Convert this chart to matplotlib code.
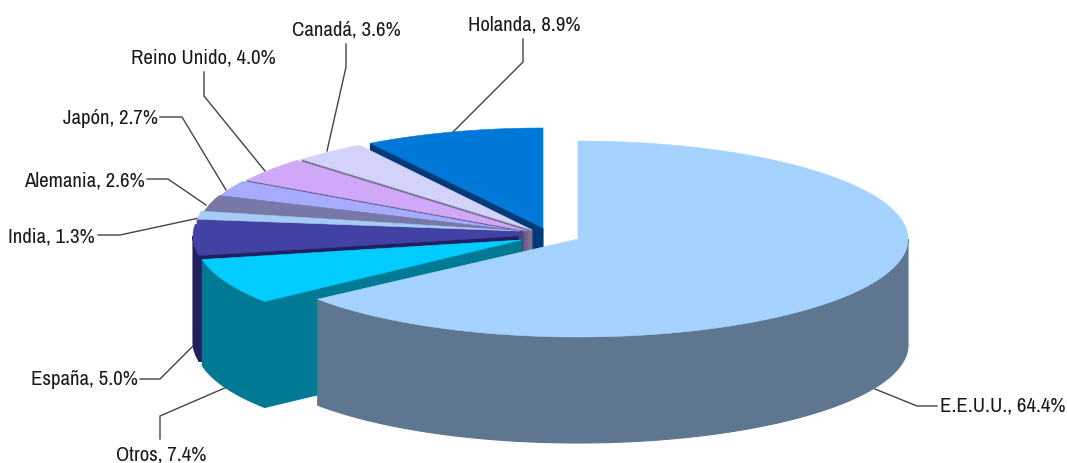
import numpy as np
import matplotlib
matplotlib.use("Agg")
import matplotlib.pyplot as plt
from matplotlib.patches import Polygon
from matplotlib import font_manager as fm

# ---- data ----
categories = ["E.E.U.U.", "Otros", "España", "India", "Alemania", "Japón", "Reino Unido", "Canadá", "Holanda"]
values = [64.4, 7.4, 5.0, 1.3, 2.6, 2.7, 4.0, 3.6, 8.9]

# ---- styles / layout (pixels) ----
top_colors = ["#A6D2FF", "#00CCFF", "#4242A4", "#A6CCF6", "#7878A8", "#A8ACFF", "#D0A8F8", "#D2D2FA", "#0078D8"]
side_colors = ["#5E7690", "#007A94", "#202060", "#4242A4", "#4A4A70", "#5A5A90", "#6E5E90", "#7A7490", "#003A78"]
centers = [(578, 240), (521, 241), (518, 237), (520, 232), (523, 232), (523, 233), (527, 232), (532, 231), (543, 229)]
radii = [(330, 98), (325, 100), (325, 100), (325, 100), (325, 100), (325, 100), (325, 100), (325, 100), (325, 100)]
DEPTH = 106
label_pos = [(1066, 406, "right"), (206, 455, "right"), (138, 380, "right"), (95, 237, "right"), (145, 181, "right"),
             (158, 119, "right"), (276, 58, "right"), (401, 30, "right"), (580, 25, "right")]
leaders = [
    [(937, 407), (917, 407), (875, 390)],
    [(160, 440), (160, 417), (227, 388)],
    [(140, 380), (160, 380), (193, 347)],
    [(98, 236), (120, 236), (199, 219)],
    [(147, 180), (168, 180), (206, 206)],
    [(160, 118), (182, 118), (226, 191)],
    [(204, 73), (204, 97), (265, 172)],
    [(346, 45), (346, 68), (327, 152)],
    [(523, 40), (523, 63), (453, 133)],
]

names = sorted({f.name for f in fm.fontManager.ttflist})
narrow = [n for n in names if "Narrow" in n or "Condensed" in n]
family = narrow[0] if narrow else "Roboto"
fsize = 15 if narrow else 13.2

fig = plt.figure(figsize=(10.67, 4.64), dpi=100, facecolor="white")
ax = fig.add_axes([0, 0, 1, 1])
ax.set_xlim(0, 1067)
ax.set_ylim(464, 0)
ax.axis("off")


def arc(center, radius, a0, a1):
    """Points of the ellipse, angle in degrees clockwise from 12 o'clock."""
    t = np.radians(np.linspace(a0, a1, max(int(abs(a1 - a0) * 2), 2)))
    return np.column_stack([center[0] + radius[0] * np.sin(t), center[1] - radius[1] * np.cos(t)])


shares = np.array(values) / np.sum(values) * 360
stops = np.cumsum(shares)
starts = stops - shares
draw_order = [8, 7, 6, 5, 4, 3, 2, 1, 0]

for z, i in enumerate(draw_order):
    c, r, a0, a1 = centers[i], radii[i], starts[i], stops[i]
    zo = 2 + z
    # wall along the first radial edge (turned to the viewer), not for the first slice
    if i > 0:
        tip = arc(c, r, a0, a0 + 0.01)[0]
        ax.add_patch(Polygon([c, tip, (tip[0], tip[1] + DEPTH), (c[0], c[1] + DEPTH)],
                             fc=side_colors[i], ec=side_colors[i], lw=0.8, zorder=zo))
    # outer wall: only the front half of the ellipse shows
    f0, f1 = max(a0, 90), min(a1, 270)
    if f1 > f0:
        pts = arc(c, r, f0, f1)
        ax.add_patch(Polygon(np.vstack([pts, pts[::-1] + [0, DEPTH]]),
                             fc=side_colors[i], ec=side_colors[i], lw=0.8, zorder=zo))
    # top face
    ax.add_patch(Polygon(np.vstack([[c], arc(c, r, a0, a1)]),
                         fc=top_colors[i], ec=top_colors[i], lw=0.4, zorder=zo))

for cat, val, (x, y, ha), pts in zip(categories, values, label_pos, leaders):
    ax.text(x, y, f"{cat}, {val:.1f}%", ha=ha, va="center", fontsize=fsize, family=family, color="#1a1a1a", zorder=30)
    xs, ys = zip(*pts)
    ax.plot(xs, ys, color="#444444", lw=1.0, zorder=1, solid_joinstyle="miter")

fig.savefig("out.png", dpi=100, facecolor="white")
